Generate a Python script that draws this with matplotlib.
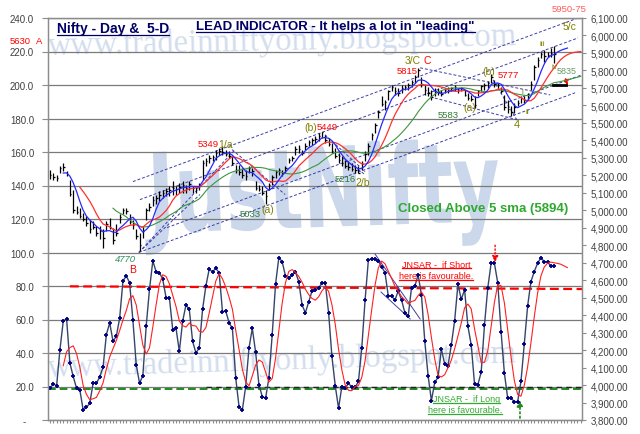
import numpy as np
import pandas as pd
import matplotlib
matplotlib.use("Agg")
import matplotlib.pyplot as plt
from matplotlib.lines import Line2D
from matplotlib.patches import PathPatch
from matplotlib.textpath import TextPath
from matplotlib.font_manager import FontProperties
from matplotlib.transforms import Affine2D
from matplotlib.ticker import FixedLocator, FuncFormatter

FONT = "Liberation Sans"
W, H = 640, 435

# ---- price bars (Nifty daily) ----
closes = [5200, 5190, 5185, 5240, 5250, 5205, 5095, 5000, 4990, 4965,
          4950, 4925, 4890, 4905, 4870, 4880, 4840, 4920, 4905, 4830,
          4870, 4960, 5000, 4995, 4930, 4915, 4850, 4800, 4880, 5000,
          5020, 5060, 5070, 5090, 5100, 5110, 5115, 5130, 5120, 5135,
          5145, 5130, 5150, 5125, 5130, 5145, 5270, 5280,
          5300, 5305, 5330, 5340, 5335, 5320, 5310, 5270, 5230, 5220,
          5200, 5195, 5240, 5225, 5130, 5120, 5100, 5080, 5145, 5190,
          5220, 5230, 5215, 5240, 5290, 5300, 5350, 5350, 5330, 5370,
          5390, 5400, 5410, 5425, 5445, 5400, 5380, 5340, 5310, 5290,
          5270, 5255, 5250, 5235, 5230, 5215, 5265, 5320, 5370,
          5430, 5490, 5560, 5610, 5620, 5680, 5705, 5680, 5670, 5700,
          5705, 5715, 5735, 5760, 5800, 5720, 5690, 5670, 5650, 5680,
          5675, 5665, 5690, 5685, 5700, 5705, 5690, 5700, 5660, 5645,
          5635, 5600, 5680, 5710, 5715, 5730, 5760, 5720, 5715, 5680,
          5590, 5580, 5560, 5590, 5615, 5640, 5630, 5660, 5725, 5820,
          5860, 5895, 5880, 5890, 5900, 5894]
highs = [5233, 5214, 5204, 5252, 5270, 5223, 5175, 5118, 5023, 5014,
         4985, 4966, 4947, 4938, 4909, 4909, 4890, 4938, 4957, 4900,
         4919, 4976, 5014, 5014, 4976, 4947, 4890, 4871, 4909, 5014,
         5042, 5080, 5090, 5109, 5118, 5128, 5137, 5166, 5137, 5156,
         5166, 5147, 5166, 5137, 5137, 5156, 5290, 5299,
         5318, 5318, 5347, 5356, 5366, 5347, 5337, 5309, 5261, 5261,
         5242, 5233, 5252, 5242, 5166, 5147, 5137, 5118, 5156, 5204,
         5233, 5242, 5233, 5252, 5299, 5309, 5366, 5375, 5347, 5385,
         5404, 5413, 5423, 5442, 5449, 5432, 5413, 5385, 5356, 5328,
         5309, 5290, 5280, 5271, 5261, 5252, 5280, 5337, 5385,
         5442, 5499, 5575, 5651, 5632, 5689, 5718, 5708, 5699, 5718,
         5718, 5727, 5746, 5775, 5815, 5765, 5718, 5708, 5689, 5699,
         5699, 5689, 5699, 5708, 5708, 5718, 5699, 5708, 5689, 5670,
         5661, 5651, 5689, 5718, 5727, 5737, 5777, 5746, 5727, 5708,
         5661, 5632, 5594, 5613, 5632, 5651, 5651, 5670, 5737, 5832,
         5879, 5908, 5918, 5908, 5927, 5940]
lows = [5179, 5175, 5166, 5214, 5223, 5194, 5080, 4985, 4976, 4957,
        4938, 4909, 4871, 4890, 4852, 4833, 4786, 4880, 4890, 4805,
        4852, 4928, 4976, 4976, 4919, 4890, 4833, 4766, 4843, 4947,
        4995, 5023, 5033, 5052, 5071, 5080, 5084, 5090, 5090, 5099,
        5099, 5099, 5118, 5099, 5099, 5118, 5175, 5252,
        5271, 5280, 5290, 5318, 5318, 5309, 5299, 5261, 5213, 5204,
        5185, 5175, 5213, 5195, 5118, 5109, 5090, 5033, 5118, 5147,
        5185, 5204, 5195, 5213, 5271, 5280, 5318, 5328, 5318, 5347,
        5366, 5375, 5385, 5394, 5413, 5385, 5366, 5328, 5299, 5271,
        5252, 5242, 5233, 5223, 5213, 5216, 5233, 5280, 5318,
        5404, 5442, 5527, 5594, 5575, 5632, 5680, 5661, 5651, 5670,
        5689, 5689, 5708, 5727, 5765, 5708, 5661, 5651, 5632, 5651,
        5661, 5651, 5670, 5670, 5680, 5680, 5670, 5680, 5651, 5632,
        5623, 5583, 5651, 5680, 5689, 5699, 5727, 5708, 5699, 5670,
        5575, 5556, 5537, 5556, 5594, 5613, 5613, 5632, 5689, 5746,
        5822, 5870, 5851, 5879, 5879, 5841]

# projected ends of the averages drawn past the last bar
blue_ext = [5905, 5915, 5922, 5928]
red_ext = [5840, 5862, 5878, 5890, 5898, 5903, 5906, 5908]
green_ext = [5733, 5737, 5741, 5746, 5751, 5756, 5761, 5766]
flat_line = [5714, 5714]
flat_x = [151.7, 155.7]

# ---- lead indicator (lower panel) ----
osc = [19, 21.5, 20.5, 42, 59, 60.5, 34, 26, 19, 18,
       6, 7.5, 10, 22, 22, 25.7, 31.5, 51, 58, 47,
       50, 60.7, 83, 86, 82, 59.5, 33, 22, 26.5, 56,
       78, 95, 88.5, 88, 84, 73, 73, 54, 54.7, 41,
       59, 68.7, 66, 47, 40, 43, 66, 80, 90, 88.5,
       90.5, 88, 64.7, 65, 58, 54.7, 25, 8, 6, 20,
       43, 54.7, 40.4, 21, 14, 13, 25, 51, 81, 97,
       94.5, 86, 85, 86.5, 88.5, 82.6, 68.7, 64, 70.6, 77,
       77.4, 78.8, 81.8, 81.8, 64, 38, 20.5, 7, 20, 19,
       22, 19.5, 19.5, 23, 43, 71.6, 95.7, 96, 96, 95,
       91.5, 88, 74, 74, 71.6, 77, 71.6, 64, 62, 79,
       80, 86.5, 74.6, 47, 26.5, 11.5, 22.5, 25.5, 42.4, 33.4,
       32.4, 44.8, 59.3, 81, 72, 77.8, 56, 44.8, 21.5, 21,
       28.5, 56.7, 79, 93.5, 93.5, 81.8, 52.7, 28, 13, 13,
       11, 11, 23, 45.4, 67.9, 82.6, 88.6, 93.5, 97, 94.5,
       94.5, 91.7, 91.7]
osc_ext = [93.5, 93, 92, 91]

# trend / channel lines in (bar, price)
price_lines = [
    (25.0, 5164, 159.2, 6100),
    (27.1, 5061, 159.2, 5986),
    (35.3, 4901, 160.4, 5775),
    (26.8, 4759, 158.3, 5672),
    (26.8, 4759, 55.8, 5347),
    (26.8, 4759, 45.2, 5090),
    (54.9, 5347, 70.9, 5090),
    (82.9, 5432, 95.0, 5221),
    (86.9, 5318, 95.0, 5204),
    (111.6, 5815, 150.8, 5660),
    (114.6, 5649, 140.8, 5518),
    (133.6, 5746, 141.1, 5506),
]
osc_lines = [(98.0, 99.1, 111.6, 60.3), (99.8, 76.4, 108.6, 60.3)]

left_ticks = list(range(0, 241, 20))
right_ticks = list(range(3800, 6101, 100))

x = np.arange(len(closes))
s_close = pd.Series(closes, dtype=float)
sma5 = s_close.rolling(5).mean()
sma10 = s_close.rolling(10).mean()
sma20 = s_close.rolling(20).mean()
osc_ma = pd.Series(osc, dtype=float).rolling(5).mean()
n = len(closes)

fig = plt.figure(figsize=(W / 100, H / 100), dpi=100)
fig.patch.set_facecolor("white")
ax = fig.add_axes([48 / W, 1 - 421 / H, 534 / W, 402 / H])
ax.patch.set_visible(False)
ax2 = ax.twinx()
ax2.patch.set_visible(False)

ax.set_xlim(-0.6, 160.4)
ax.set_ylim(0, 240)
ax2.set_ylim(3800, 6100)

axis_col = "#8c8c8c"
lab_col = "#404040"
for a in (ax, ax2):
    for sp in a.spines.values():
        sp.set_color(axis_col)
        sp.set_linewidth(0.9)

ax.yaxis.set_major_locator(FixedLocator(left_ticks))
ax.yaxis.set_major_formatter(FuncFormatter(lambda v, p: "-   " if v == 0 else f"{v:.1f}"))
ax.tick_params(axis="y", length=4, color=axis_col, labelsize=7, labelcolor=lab_col, pad=6)
ax.grid(axis="y", color="#7a7a7a", lw=0.9)
ax.set_axisbelow(True)
ax.set_xticks(np.arange(0, 161))
ax.set_xticklabels([])
ax.tick_params(axis="x", length=2.5, color=axis_col, width=0.8)

ax2.yaxis.set_major_locator(FixedLocator(right_ticks))
ax2.yaxis.set_major_formatter(FuncFormatter(lambda v, p: f"{v:,.2f}"))
ax2.tick_params(axis="y", length=3, color=axis_col, labelsize=7, labelcolor=lab_col, pad=3)
for lab in ax.get_yticklabels() + ax2.get_yticklabels():
    lab.set_family(FONT)

# lower panel
ax.plot([6, 160.4], [79.8, 78.2], color="red", lw=1.6, dashes=(4, 2))
ax.plot([-0.6, 160.4], [18.8, 18.8], color="#1e8c1e", lw=1.4, dashes=(4, 2))
ax.plot([47, 160.4], [20, 20], color="#202020", lw=1.0, dashes=(4, 3))
ax.plot(x, osc, color="#34446a", lw=1.0, marker="+", ms=3.5, mew=1.3, mec="#000080", zorder=4)
ax.plot(np.arange(n + len(osc_ext)), list(osc_ma) + osc_ext, color="#ff2020", lw=0.8, zorder=5)
for x0, y0, x1, y1 in osc_lines:
    ax.plot([x0, x1], [y0, y1], color="#4040a0", lw=0.7)
ax.annotate("", xy=(134.2, 92.5), xytext=(134.2, 106), annotation_clip=False,
            arrowprops=dict(arrowstyle="-|>", color="red", ls=":", lw=1, mutation_scale=9))
ax.annotate("", xy=(141.7, 13.5), xytext=(141.7, -0.5), annotation_clip=False,
            arrowprops=dict(arrowstyle="-|>", color="#1e8c1e", ls=":", lw=1.2, mutation_scale=9))

# price panel
ax2.vlines(x, lows, highs, color="black", lw=0.9, zorder=3)
ax2.hlines(closes, x, x + 0.45, color="black", lw=0.9, zorder=3)
for x0, y0, x1, y1 in price_lines:
    ax2.plot([x0, x1], [y0, y1], color="#3c3ca8", lw=0.7, dashes=(3, 2), zorder=2)
ax2.plot(np.arange(n + len(green_ext)), list(sma20) + green_ext, color="#3c963c", lw=0.8, zorder=4)
ax2.plot(np.arange(n + len(red_ext)), list(sma10) + red_ext, color="#ff3030", lw=0.9, zorder=4)
ax2.plot(np.arange(n + len(blue_ext)), list(sma5) + blue_ext, color="#2828ff", lw=0.9, zorder=5)
ax2.plot(flat_x, flat_line, color="black", lw=2.0, zorder=5)
ax2.annotate("", xy=(156.2, 5698), xytext=(155.3, 5768),
             arrowprops=dict(arrowstyle="-|>", color="red", ls=":", lw=1, mutation_scale=8))

# watermarks
wm = "#d2ddee"
fig.text(47 / W, 1 - 55 / H, "www.tradeinniftyonly.blogspot.com", family="Liberation Serif",
         fontsize=23.5, color=wm, rotation=1.2, va="baseline", ha="left", zorder=-2)
fig.text(47 / W, 1 - 377 / H, "www.tradeinniftyonly.blogspot.com", family="Liberation Serif",
         fontsize=23.5, color=wm, rotation=1.8, va="baseline", ha="left", zorder=-2)
tp = TextPath((0, 0), "JustNifty", size=100, prop=FontProperties(family="DejaVu Sans", weight="bold"))
bb = tp.get_extents()
tr = (Affine2D().translate(-bb.x0, -bb.y0).scale(355 / bb.width, 108 / bb.height)
      .rotate_deg(2).translate(146, H - 258).scale(1 / 100))
fig.add_artist(PathPatch(tr.transform_path(tp), facecolor="#cbd8eb", edgecolor="none",
                         transform=fig.dpi_scale_trans, zorder=-2))


def put(px, py, s, color, size=6.8, **kw):
    return fig.text(px / W, 1 - py / H, s, color=color, fontsize=size, family=FONT,
                    va="center", ha="left", **kw)


olive = "#808000"
grn = "#2e7d32"
under = []
under.append(put(57, 29, "Nifty - Day &  5-D", "#000066", 10, weight="bold"))
under.append(put(196, 27, "LEAD INDICATOR - It helps a lot in \"leading\"", "#000066", 9.5, weight="bold"))
put(10, 41, "5630", "red")
put(36, 42, "A", "red")
put(552, 9, "5950-75", "#ff5a5a")
put(563, 27, "5/c", olive, 7.5)
put(540, 44, "iii", olive, 6)
put(551, 68, "iv", olive, 6)
put(557, 72, "5835", "#6b9b6b", 6.5)
put(405, 61, "3/C", olive, 7.5)
put(424, 61, "C", "red", 7.5)
put(397, 72, "5815", "red")
put(482, 72, "(b)", olive, 7.5)
put(498, 75, "5777", "red")
put(438, 115, "5583", grn)
put(463, 108, "(a)", olive, 7.5)
put(514, 125, "4", olive, 8)
put(526, 113, "ii", olive, 6)
put(521, 92, "i", olive, 6)
put(198, 145, "5349", "red")
put(218, 145, "1/a", olive, 7.5)
put(304, 128, "(b)", olive, 7.5)
put(317, 127, "5449", "red")
put(240, 215, "5033", grn)
put(261, 210, "(a)", olive, 7.5)
put(335, 180, "5216", grn)
put(355, 183, "2/b", olive, 7.5)
put(115, 259, "4770", "#2e8b57", style="italic")
put(129, 270, "B", "red", 7.5)
put(398, 209, "Closed Above 5 sma (5894)", "#2ea82e", 9.5, weight="bold")
under.append(put(402, 265, "JNSAR -  if Short", "red", 6.5))
under.append(put(399, 277, "here is favourable.", "red", 6.5))
under.append(put(433, 400, "JNSAR -  if Long", "#33aa33", 6.5))
under.append(put(428, 411, "here is favourable.", "#33aa33", 6.5))

fig.canvas.draw()
rend = fig.canvas.get_renderer()
inv = fig.transFigure.inverted()
for t in under:
    e = t.get_window_extent(rend)
    (fx0, fy), (fx1, _) = inv.transform([(e.x0, e.y0 + 0.5), (e.x1, e.y0 + 0.5)])
    fig.add_artist(Line2D([fx0, fx1], [fy, fy], transform=fig.transFigure,
                          color=t.get_color(), lw=0.9))

fig.savefig("out.png", dpi=100)
